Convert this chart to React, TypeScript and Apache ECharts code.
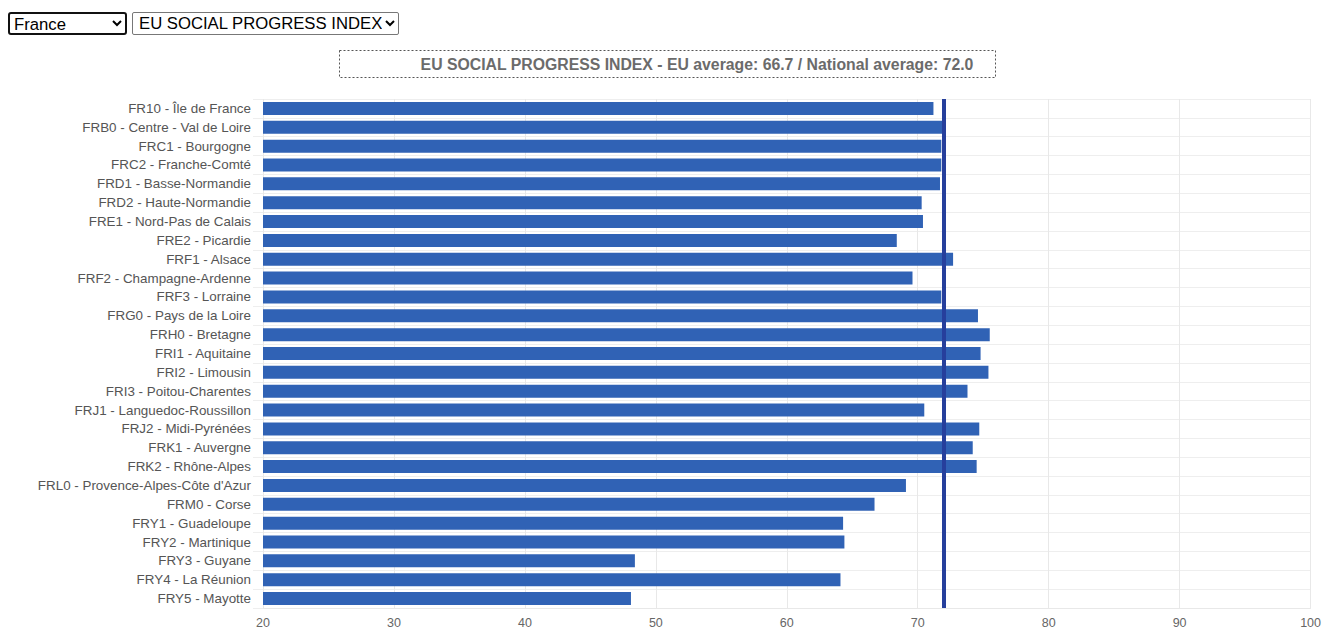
import React, { useEffect, useRef } from "react";
import * as echarts from "echarts";

const regions = [
  "FR10 - Île de France",
  "FRB0 - Centre - Val de Loire",
  "FRC1 - Bourgogne",
  "FRC2 - Franche-Comté",
  "FRD1 - Basse-Normandie",
  "FRD2 - Haute-Normandie",
  "FRE1 - Nord-Pas de Calais",
  "FRE2 - Picardie",
  "FRF1 - Alsace",
  "FRF2 - Champagne-Ardenne",
  "FRF3 - Lorraine",
  "FRG0 - Pays de la Loire",
  "FRH0 - Bretagne",
  "FRI1 - Aquitaine",
  "FRI2 - Limousin",
  "FRI3 - Poitou-Charentes",
  "FRJ1 - Languedoc-Roussillon",
  "FRJ2 - Midi-Pyrénées",
  "FRK1 - Auvergne",
  "FRK2 - Rhône-Alpes",
  "FRL0 - Provence-Alpes-Côte d'Azur",
  "FRM0 - Corse",
  "FRY1 - Guadeloupe",
  "FRY2 - Martinique",
  "FRY3 - Guyane",
  "FRY4 - La Réunion",
  "FRY5 - Mayotte",
];

const spiValues = [
  71.2, 71.9, 71.8, 71.8, 71.7, 70.3, 70.4, 68.4, 72.7, 69.6, 71.8, 74.6, 75.5,
  74.8, 75.4, 73.8, 70.5, 74.7, 74.2, 74.5, 69.1, 66.7, 64.3, 64.4, 48.4, 64.1,
  48.1,
];

const nationalAverage = 72.0;
const euAverage = 66.7;
const titleText = `EU SOCIAL PROGRESS INDEX - EU average: ${euAverage.toFixed(1)} / National average: ${nationalAverage.toFixed(1)}`;

const countries = ["France"];
const indices = ["EU SOCIAL PROGRESS INDEX"];

export default function App() {
  const ref = useRef<HTMLDivElement>(null);
  useEffect(() => {
    if (!ref.current) return;
    const chart = echarts.init(ref.current, null, { renderer: "svg" });
    const font = "Arial, 'Liberation Sans', sans-serif";
    chart.setOption({
      animation: false,
      textStyle: { fontFamily: font },
      grid: { left: 263, right: 13, top: 99, bottom: 22, containLabel: false },
      graphic: [
        {
          type: "rect",
          shape: { x: 339.5, y: 50.5, width: 656, height: 27 },
          style: { fill: "none", stroke: "#555", lineWidth: 1, lineDash: [2, 2] },
        },
        {
          type: "text",
          x: 697,
          y: 64,
          style: {
            text: titleText,
            fill: "#6b6b6b",
            font: `bold 15.8px ${font}`,
            textAlign: "center",
            textVerticalAlign: "middle",
          },
        },
      ],
      xAxis: {
        type: "value",
        min: 20,
        max: 100,
        interval: 10,
        axisLine: { show: true, lineStyle: { color: "#e8e8e8" } },
        axisTick: { show: false },
        axisLabel: { color: "#666", fontSize: 12.5, margin: 8 },
        splitLine: { show: true, lineStyle: { color: "#e8e8e8" } },
      },
      yAxis: {
        type: "category",
        inverse: true,
        data: regions,
        axisLine: { show: false },
        axisTick: { show: true, length: 10, lineStyle: { color: "#eeeeee" } },
        axisLabel: { color: "#555", fontSize: 13.4, margin: 12 },
        splitLine: { show: true, lineStyle: { color: "#eeeeee" } },
      },
      series: [
        {
          type: "bar",
          data: spiValues,
          barWidth: 13,
          itemStyle: { color: "#3062b5" },
          markLine: {
            silent: true,
            symbol: "none",
            label: { show: false },
            lineStyle: { color: "#263f9c", width: 4, type: "solid" },
            data: [{ xAxis: nationalAverage }],
          },
        },
      ],
    });
    return () => chart.dispose();
  }, []);

  const selStyle: React.CSSProperties = {
    position: "absolute",
    top: 12,
    height: 23,
    fontFamily: "Arial, 'Liberation Sans', sans-serif",
    fontSize: 16.7,
    color: "#000",
    background: "#fff",
    padding: 0,
    boxSizing: "border-box",
  };

  return (
    <div style={{ position: "fixed", left: 0, top: 0, width: 1324, height: 630, background: "#fff" }}>
      <div ref={ref} style={{ position: "absolute", left: 0, top: 0, width: 1324, height: 630 }} />
      <select
        defaultValue={countries[0]}
        style={{ ...selStyle, left: 8, width: 119, border: "2px solid #111", borderRadius: 3 }}
      >
        {countries.map((c) => (
          <option key={c}>{c}</option>
        ))}
      </select>
      <select
        defaultValue={indices[0]}
        style={{ ...selStyle, left: 132, width: 267, border: "1px solid #777", borderRadius: 2, paddingLeft: 2 }}
      >
        {indices.map((c) => (
          <option key={c}>{c}</option>
        ))}
      </select>
    </div>
  );
}
